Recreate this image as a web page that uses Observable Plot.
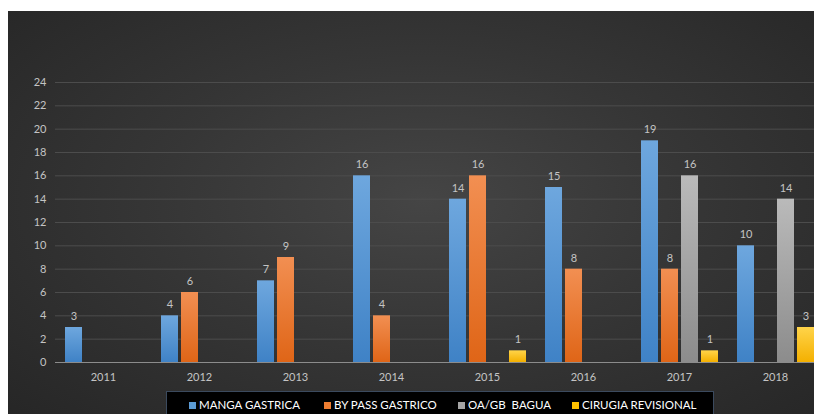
<!DOCTYPE html>
<html>
<head>
<meta charset="utf-8">
<script src="https://cdn.jsdelivr.net/npm/d3@7"></script>
<script src="https://cdn.jsdelivr.net/npm/@observablehq/plot@0.6"></script>
<style>
  html, body { margin: 0; padding: 0; background: #fff; overflow: hidden; width: 814px; height: 414px; }
  #panel { position: absolute; left: 8px; top: 11px; width: 830px; height: 420px; overflow: hidden;
    background: radial-gradient(ellipse 70% 75% at 50% 45%, #454545 0%, #363636 45%, #262626 100%); }
  #chart { position: absolute; left: 0; top: 0; }
  #legend { position: absolute; left: 158px; top: 380px; width: 548px; height: 40px; background: #000;
    border: 1px solid #3b4a5e; box-sizing: border-box; font-family: Lato, "Open Sans", sans-serif; font-size: 11.5px; color: #fff; }
  .item { position: absolute; top: 6px; display: flex; align-items: center; white-space: pre; line-height: 14px; }
  .sw { width: 7px; height: 7px; margin-right: 3px; }
</style>
</head>
<body>
<div id="panel">
  <div id="chart"></div>
  <div id="legend"></div>
</div>
<script>
const years = ["2011", "2012", "2013", "2014", "2015", "2016", "2017", "2018"];
const series = ["MANGA GASTRICA", "BY PASS GASTRICO", "OA/GB  BAGUA", "CIRUGIA REVISIONAL"];
const manga   = [3, 4, 7, 16, 14, 15, 19, 10];
const bypass  = [null, 6, 9, 4, 16, 8, 8, null];
const oagb    = [null, null, null, null, null, null, 16, 14];
const cirugia = [null, null, null, null, 1, null, 1, 3];
const yTicks = [0, 2, 4, 6, 8, 10, 12, 14, 16, 18, 20, 22, 24];

const swatch = ["#5b9bd5", "#ed7d31", "#a5a5a5", "#ffc000"];
const grads = [
  ["gBlue", "#6ea7de", "#3f82c6"],
  ["gOrange", "#f28f52", "#df6517"],
  ["gGray", "#bababa", "#8c8c8c"],
  ["gYellow", "#ffd44a", "#f4b000"]
];

const valuesBySeries = [manga, bypass, oagb, cirugia];
const data = [];
years.forEach((yr, i) => {
  series.forEach((s, j) => {
    const v = valuesBySeries[j][i];
    if (v != null) data.push({year: yr, series: s, value: v});
  });
});

const chart = Plot.plot({
  width: 830,
  height: 381,
  marginTop: 71,
  marginBottom: 30,
  marginLeft: 48,
  marginRight: 0,
  style: {background: "transparent", color: "#c4c4c4", fontFamily: "Lato, 'Open Sans', sans-serif", fontSize: "11px"},
  fx: {domain: years, range: [47, 815], padding: 0, label: null},
  x: {domain: series, paddingInner: 0.15, paddingOuter: 0.475, axis: null},
  y: {domain: [0, 24], label: null},
  color: {domain: series, range: grads.map(g => `url(#${g[0]})`)},
  marks: [
    Plot.gridY(yTicks, {stroke: "#4c4c4c", strokeOpacity: 1}),
    Plot.ruleY([0], {stroke: "#8c8c8c", strokeWidth: 1}),
    Plot.barY(data, {fx: "year", x: "series", y: "value", fill: "series"}),
    Plot.text(data, {fx: "year", x: "series", y: "value", text: d => String(d.value), dy: -11, fill: "#c4c4c4", fontSize: 11}),
    Plot.axisY(yTicks, {tickSize: 0, tickPadding: 9, label: null, fill: "#c4c4c4"}),
    Plot.axisFx({anchor: "bottom", tickSize: 0, tickPadding: 11, label: null, fill: "#c4c4c4"})
  ]
});

const defs = d3.select(chart).insert("defs", ":first-child");
grads.forEach(([id, top, bottom]) => {
  const lg = defs.append("linearGradient").attr("id", id).attr("x1", 0).attr("y1", 0).attr("x2", 0).attr("y2", 1);
  lg.append("stop").attr("offset", "0%").attr("stop-color", top);
  lg.append("stop").attr("offset", "100%").attr("stop-color", bottom);
});
document.getElementById("chart").appendChild(chart);

const legendPos = [22, 157, 291, 405];
const legend = document.getElementById("legend");
series.forEach((s, j) => {
  const it = document.createElement("div");
  it.className = "item";
  it.style.left = legendPos[j] + "px";
  it.innerHTML = `<span class="sw" style="background:${swatch[j]}"></span><span>${s}</span>`;
  legend.appendChild(it);
});
</script>
</body>
</html>
